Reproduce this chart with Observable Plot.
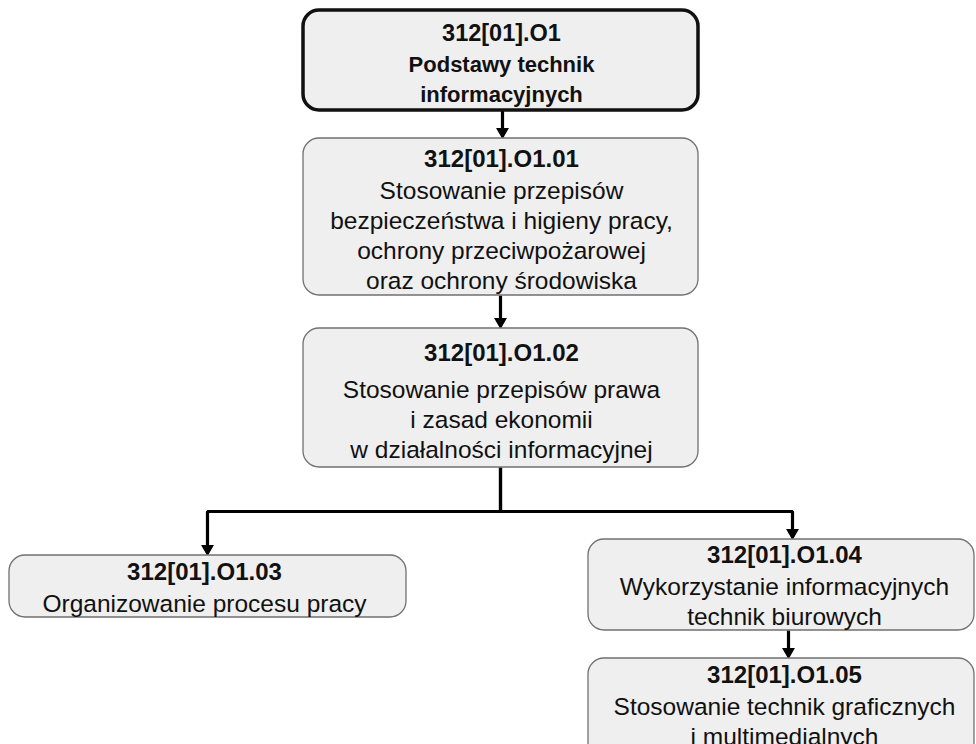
<!DOCTYPE html>
<html><head><meta charset="utf-8">
<script src="https://cdn.jsdelivr.net/npm/d3@7"></script>
<script src="https://cdn.jsdelivr.net/npm/@observablehq/plot@0.6"></script>
<style>html,body{margin:0;padding:0;background:#fff;overflow:hidden} svg{display:block}</style>
</head><body><div id="chart"></div>
<script>
// ---- content ----
const codes = ["312[01].O1", "312[01].O1.01", "312[01].O1.02", "312[01].O1.03", "312[01].O1.04", "312[01].O1.05"];
const titles = [
  "Podstawy technik\ninformacyjnych",
  "Stosowanie przepisów\nbezpieczeństwa i higieny pracy,\nochrony przeciwpożarowej\noraz ochrony środowiska",
  "Stosowanie przepisów prawa\ni zasad ekonomii\nw działalności informacyjnej",
  "Organizowanie procesu pracy",
  "Wykorzystanie informacyjnych\ntechnik biurowych",
  "Stosowanie technik graficznych\ni multimedialnych"
];
const edges = [[0, 1], [1, 2], [2, 3], [2, 4], [4, 5]];

// ---- layout (pixels) ----
const boxLeft   = [303, 303, 303,   9, 588, 588];
const boxRight  = [698, 698, 698, 406, 974, 974];
const boxTop    = [ 10, 138, 328, 555, 539, 658];
const boxBottom = [110, 295, 467, 617, 630, 770];
const inX       = [502, 502, 500, 207, 792, 788];
const outX      = [502, 500, 500, 207, 788, 788];
const textX     = [501, 501, 501, 204, 784, 784];
const codeY     = [ 33, 159, 353, 572, 555, 675];
const descY     = [ 77, 234, 418, 602, 600, 720];
const busY = 511;
const FONT = "'Liberation Sans', Arial, Helvetica, sans-serif";

const ids = d3.range(codes.length);
const sub = ids.filter(i => i > 0);

// edge polylines
const pts = [];
edges.forEach(([a, b], k) => {
  const sx = outX[a], tx = inX[b], ty = boxTop[b] - 10;
  if (Math.abs(sx - tx) < 4) {
    pts.push({k, x: sx, y: boxBottom[a]}, {k, x: sx, y: ty});
  } else {
    pts.push({k, x: sx, y: boxBottom[a]}, {k, x: sx, y: busY}, {k, x: tx, y: busY}, {k, x: tx, y: ty});
  }
});

const chart = Plot.plot({
  width: 976, height: 744,
  margin: 0,
  x: {domain: [0, 976], range: [0, 976], axis: null},
  y: {domain: [0, 744], range: [0, 744], axis: null},
  style: {background: "#fff"},
  marks: [
    Plot.line(pts, {x: "x", y: "y", z: "k", stroke: "#000", strokeWidth: 3.2, strokeLinejoin: "miter", strokeLinecap: "butt"}),
    Plot.dot(edges, {x: ([a, b]) => inX[b], y: ([a, b]) => boxTop[b] - 6.8, symbol: "triangle", rotate: 180, r: 4.8, fill: "#000", stroke: "none"}),
    Plot.rect(sub, {x1: i => boxLeft[i], x2: i => boxRight[i], y1: i => boxTop[i], y2: i => boxBottom[i], rx: 16, fill: "#efefef", stroke: "#707070", strokeWidth: 1.3}),
    Plot.rect([0], {x1: i => boxLeft[i], x2: i => boxRight[i], y1: i => boxTop[i], y2: i => boxBottom[i], rx: 16, fill: "#efefef", stroke: "#111", strokeWidth: 3.5}),
    // top box: all bold
    Plot.text([0], {x: i => textX[i], y: i => codeY[i], text: i => codes[i], fontSize: 23.5, fontWeight: "bold", fontFamily: FONT, fill: "#111", lineAnchor: "middle"}),
    Plot.text([0], {x: i => textX[i], y: i => descY[i], text: i => titles[i], fontSize: 22, fontWeight: "bold", fontFamily: FONT, fill: "#111", lineAnchor: "middle", lineHeight: 1.36}),
    // other boxes: bold code, normal description
    Plot.text(sub, {x: i => textX[i], y: i => codeY[i], text: i => codes[i], fontSize: 24, fontWeight: "bold", fontFamily: FONT, fill: "#111", lineAnchor: "middle"}),
    Plot.text(sub, {x: i => textX[i], y: i => descY[i], text: i => titles[i], fontSize: 24.5, fontWeight: "normal", fontFamily: FONT, fill: "#111", lineAnchor: "middle", lineHeight: 1.22})
  ]
});
document.getElementById("chart").append(chart);
</script>
</body></html>
